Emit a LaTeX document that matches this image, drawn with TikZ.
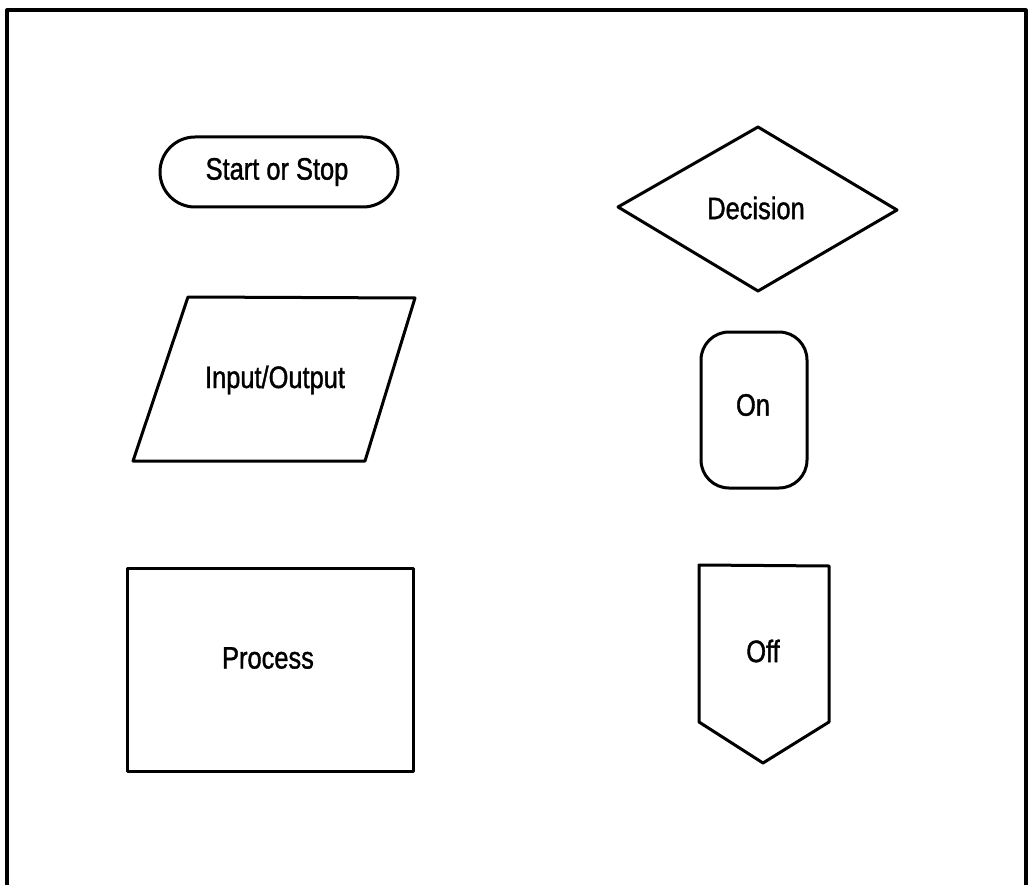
\documentclass[tikz,border=0pt]{standalone}
\usepackage{fontspec}
\setmainfont{Liberation Sans}[FakeStretch=0.82,FakeBold=1.2]
\usetikzlibrary{shapes.geometric,shapes.misc}
\begin{document}
\begin{tikzpicture}[x=1pt,y=-1pt,
  line join=round,
  lbl/.style={font=\fontsize{31}{34}\selectfont, inner sep=0pt},
  outline/.style={draw=black, line width=3pt}]
\useasboundingbox (0,0) rectangle (1033,885);
% frame
\coordinate (fbl) at (7,886);
\coordinate (ftl) at (7,10);
\coordinate (ftr) at (1026,10);
\coordinate (fbr) at (1026,886);
\draw[line width=3.2pt] (fbl) -- (ftl) -- (ftr) -- (fbr);
% Start or Stop
\node[outline, rounded rectangle, minimum width=238pt, minimum height=70pt, inner sep=0pt] (start) at (279,172) {};
\node[lbl] (startt) at (277,172) {Start or Stop};
% Input/Output
\coordinate (io1) at (188,297);
\coordinate (io2) at (415,298);
\coordinate (io3) at (365,461);
\coordinate (io4) at (133,461);
\draw[outline] (io1) -- (io2) -- (io3) -- (io4) -- cycle;
\node[lbl] (iot) at (275,380) {Input/Output};
% Process
\node[outline, rectangle, minimum width=286pt, minimum height=203pt, inner sep=0pt] (proc) at (270,669.5) {};
\node[lbl] (proct) at (268,658) {Process};
% Decision
\coordinate (d1) at (618,207);
\coordinate (d2) at (758,127);
\coordinate (d3) at (897,210);
\coordinate (d4) at (758,291);
\draw[outline] (d1) -- (d2) -- (d3) -- (d4) -- cycle;
\node[lbl] (dect) at (756,208) {Decision};
% On
\node[outline, rectangle, rounded corners=28pt, minimum width=106pt, minimum height=156pt, inner sep=0pt] (on) at (754,410) {};
\node[lbl] (ont) at (753,405) {On};
% Off
\coordinate (o1) at (699,565);
\coordinate (o2) at (829,566);
\coordinate (o3) at (829,722);
\coordinate (o4) at (763,763);
\coordinate (o5) at (699,722);
\draw[outline] (o1) -- (o2) -- (o3) -- (o4) -- (o5) -- cycle;
\node[lbl] (offt) at (763,651) {Off};
\end{tikzpicture}
\end{document}
